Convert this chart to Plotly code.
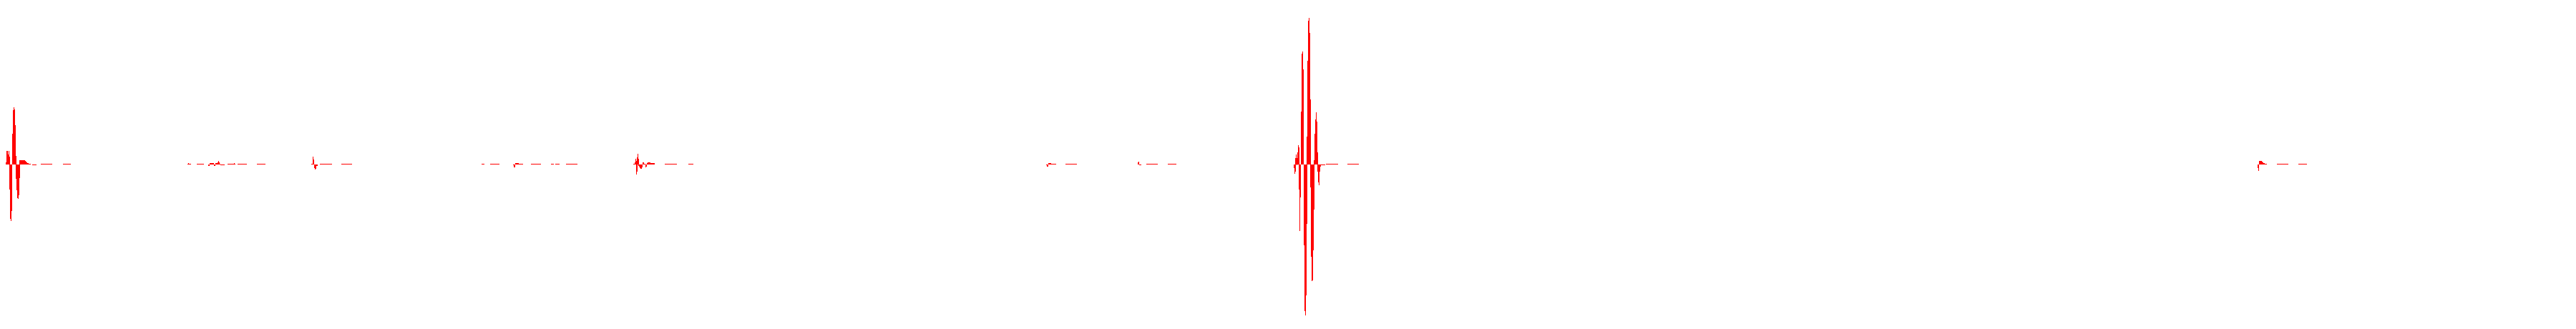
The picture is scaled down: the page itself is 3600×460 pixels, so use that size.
import numpy as np
import plotly.graph_objects as go

N_SAMPLES = 3600

# Low-level runs of near-zero activity: first sample, last sample, amplitude
run_first = [40, 45, 57, 88, 262, 264, 275, 308, 318, 332, 359, 435, 447, 477,
             673, 685, 725, 742, 770, 776, 791, 885, 929, 962,
             1469, 1489, 1592, 1602, 1632, 1846, 1853, 1883, 3165, 3182, 3212]
run_last = [42, 50, 72, 98, 262, 266, 284, 313, 326, 344, 370, 436, 463, 491,
            676, 697, 730, 755, 773, 781, 806, 886, 945, 968,
            1475, 1504, 1594, 1617, 1643, 1851, 1869, 1898, 3167, 3197, 3223]
run_amp = [0.5, -0.5, 0.5, 0.5, 0.5, 0.5, 0.5, -0.5, 0.5, 0.5, 0.5, 0.5, 0.5, 0.5,
           0.5, 0.5, 0.5, 0.5, 0.5, 0.5, 0.5, 0.5, 0.5, 0.5,
           0.5, 0.5, -0.5, 0.5, 0.5, -0.5, 0.5, 0.5, 0.5, 0.5, 0.5]

# Bursts: first sample, then per-sample upper (peak) and lower (trough) values
burst_start = [8, 263, 291, 327, 437, 717, 887, 1462, 1590, 1808, 3155]
burst_peak = [
    [3, 19, 19, 14, 19, 11, 0, 0, 0, 43, 76, 80, 77, 55, 12, 0, 0, 0, 0, 6,
     6, 6, 6, 6, 6, 6, 6, 5, 4, 3, 2, 2],
    [2],
    [0, 0, 2, 2, 2, 2, 2, 2, 0, 0, 2, 2, 2, 3, 5, 3, 1],
    [2, 1],
    [11, 7, 0, 0, 0, 0, 0],
    [0, 0, 0, 2, 2, 2, 2, 2],
    [3, 8, 5, 10, 15, 8, 0, 0, 0, 0, 0, 3, 3, 1, 1, 0, 0, 2, 3, 3, 3, 3,
     1.5, 1.5, 1.5, 1.5, 1.5, 1.5],
    [0, 0, 0, 2, 2, 2, 2],
    [3, 4],
    [0, 0, 9, 14, 9, 17, 27, 24, 0, 0, 74, 155, 158, 133, 0, 0, 0, 0, 39, 145,
     201, 205, 184, 91, 0, 0, 0, 0, 6, 43, 63, 73, 60, 17, 0, 0, 0, 0],
    [0, 0, 5, 5, 5, 5, 4, 3, 2, 2],
]
burst_trough = [
    [0, 0, 0, 0, 0, -35, -76, -79, -65, 0, 0, 0, 0, 0, -20, -36, -47, -48, -43, -19,
     0, 0, 0, 0, 0, 0, 0, 0, 0, 0, 0, 0],
    [0],
    [-2, -2, 0, 0, 0, 0, 0, 0, -2, -2, 0, 0, 0, 0, 0, 0, 0],
    [0, 0],
    [0, 0, -5, -7, -6, -2, -2],
    [-1, -4, -4, 0, 0, 0, 0, 0],
    [0, 0, -14, -10, 0, -2, -3, -5, -6, -6, -4, 0, 0, 0, 0, -4, -3, 0, 0, 0, 0, 0,
     0, 0, 0, 0, 0, 0],
    [-1, -3, -3, 0, 0, 0, 0],
    [0, 0],
    [-5, -13, -10, 0, -1, 0, 0, -35, -93, -46, 0, 0, 0, 0, -113, -205, -211, -183, -83, 0,
     0, 0, 0, -32, -129, -163, -162, -120, -63, 0, 0, 0, 0, -10, -25, -29, -10, -3],
    [-5, -9, 0, 0, 0, 0, 0, 0, 0, 0],
]

# assemble series
upper = np.full(N_SAMPLES, np.nan)
lower = np.full(N_SAMPLES, np.nan)
for a, b, v in zip(run_first, run_last, run_amp):
    if v > 0:
        upper[a:b + 1] = v
    else:
        lower[a:b + 1] = v
for s, pk, tr in zip(burst_start, burst_peak, burst_trough):
    for i, (p, t) in enumerate(zip(pk, tr)):
        if p:
            upper[s + i] = p
        if t:
            lower[s + i] = t

x = np.arange(N_SAMPLES)

fig = go.Figure()
for series in (upper, lower):
    fig.add_trace(go.Bar(
        x=x, y=series, width=0.9,
        marker=dict(color="#ff0000", line=dict(width=0)),
        hoverinfo="skip", showlegend=False,
    ))

fig.update_layout(
    width=3600, height=460,
    margin=dict(l=0, r=0, t=0, b=0),
    barmode="relative",
    paper_bgcolor="white", plot_bgcolor="white",
    xaxis=dict(range=[-0.5, N_SAMPLES - 0.5], visible=False, showgrid=False, zeroline=False),
    yaxis=dict(range=[-230, 230], visible=False, showgrid=False, zeroline=False),
)

fig.write_html(
    "out.html",
    config={"displayModeBar": False},
    post_script="document.body.style.margin='0';document.body.style.padding='0';",
)
